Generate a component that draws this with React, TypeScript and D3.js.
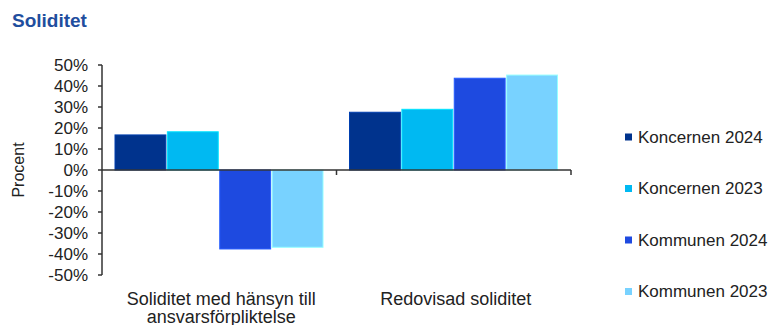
import React from "react";
import * as d3 from "d3";

const categories = ["Soliditet med hänsyn till|ansvarsförpliktelse", "Redovisad soliditet"];
const seriesNames = ["Koncernen 2024", "Koncernen 2023", "Kommunen 2024", "Kommunen 2023"];
const seriesColors = ["#00338D", "#00B9F2", "#1E4AE0", "#78D2FF"];
const koncernen2024 = [16.7, 27.5];
const koncernen2023 = [18.2, 28.9];
const kommunen2024 = [-37.6, 43.7];
const kommunen2023 = [-36.8, 45.2];
const yTicks = [50, 40, 30, 20, 10, 0, -10, -20, -30, -40, -50];

const seriesValues = [koncernen2024, koncernen2023, kommunen2024, kommunen2023];

const W = 777;
const H = 325;
const left = 102;
const right = 571;
const top = 65;
const bottom = 275;
const font = "Arial, 'Liberation Sans', sans-serif";

export default function App() {
  const y = d3.scaleLinear().domain([-50, 50]).range([bottom, top]);
  const x0 = d3.scaleBand<string>().domain(categories).range([left, right]).paddingInner(0).paddingOuter(0);
  const pad = 12.5;
  const x1 = d3.scaleBand<string>().domain(seriesNames).range([pad, x0.bandwidth() - pad]).padding(0);
  const zeroY = y(0);

  return (
    <svg width={W} height={H} style={{ position: "absolute", left: 0, top: 0, background: "#fff" }} fontFamily={font}>
      <text x={12} y={27} fontSize={19} fontWeight="bold" fill="#1F4E9E">Soliditet</text>

      {categories.map((c, ci) =>
        seriesNames.map((s, si) => {
          const v = seriesValues[si][ci];
          const bx = (x0(c) as number) + (x1(s) as number);
          const by = Math.min(y(v), zeroY);
          const bh = Math.abs(y(v) - zeroY);
          const col = seriesColors[si];
          const stroke = d3.color(col)!.brighter(0.6).formatHex();
          return (
            <rect key={c + s} x={bx + 0.5} y={by} width={x1.bandwidth() - 1.5} height={bh}
              fill={col} stroke={stroke} strokeWidth={1} />
          );
        })
      )}

      {/* y axis */}
      <line x1={left} x2={left} y1={top} y2={bottom} stroke="#333" strokeWidth={1.5} />
      {yTicks.map((t) => (
        <g key={t}>
          <line x1={left - 4} x2={left} y1={y(t)} y2={y(t)} stroke="#333" strokeWidth={1.5} />
          <text x={88} y={y(t)} dy="0.35em" textAnchor="end" fontSize={17} fill="#222">{t + "%"}</text>
        </g>
      ))}
      <text transform={`translate(24,${zeroY}) rotate(-90)`} textAnchor="middle" fontSize={16} fill="#222">Procent</text>

      {/* x axis */}
      <line x1={left} x2={right} y1={zeroY} y2={zeroY} stroke="#333" strokeWidth={1.5} />
      {categories.map((c) => (
        <line key={"t" + c} x1={(x0(c) as number) + x0.bandwidth()} x2={(x0(c) as number) + x0.bandwidth()}
          y1={zeroY} y2={zeroY + 5} stroke="#333" strokeWidth={1.5} />
      ))}
      {categories.map((c) => {
        const cx = (x0(c) as number) + x0.bandwidth() / 2 + 2;
        return (
          <text key={"l" + c} x={cx} y={304.5} textAnchor="middle" fontSize={18} fill="#222">
            {c.split("|").map((ln, i) => (
              <tspan key={i} x={cx} dy={i === 0 ? 0 : 18}>{ln}</tspan>
            ))}
          </text>
        );
      })}

      {/* legend */}
      {seriesNames.map((s, i) => {
        const ly = 137 + i * 51.5;
        return (
          <g key={"lg" + s}>
            <rect x={625} y={ly - 3.5} width={7} height={7} fill={seriesColors[i]} />
            <text x={638} y={ly} dy="0.35em" fontSize={17} fill="#222">{s}</text>
          </g>
        );
      })}
    </svg>
  );
}
